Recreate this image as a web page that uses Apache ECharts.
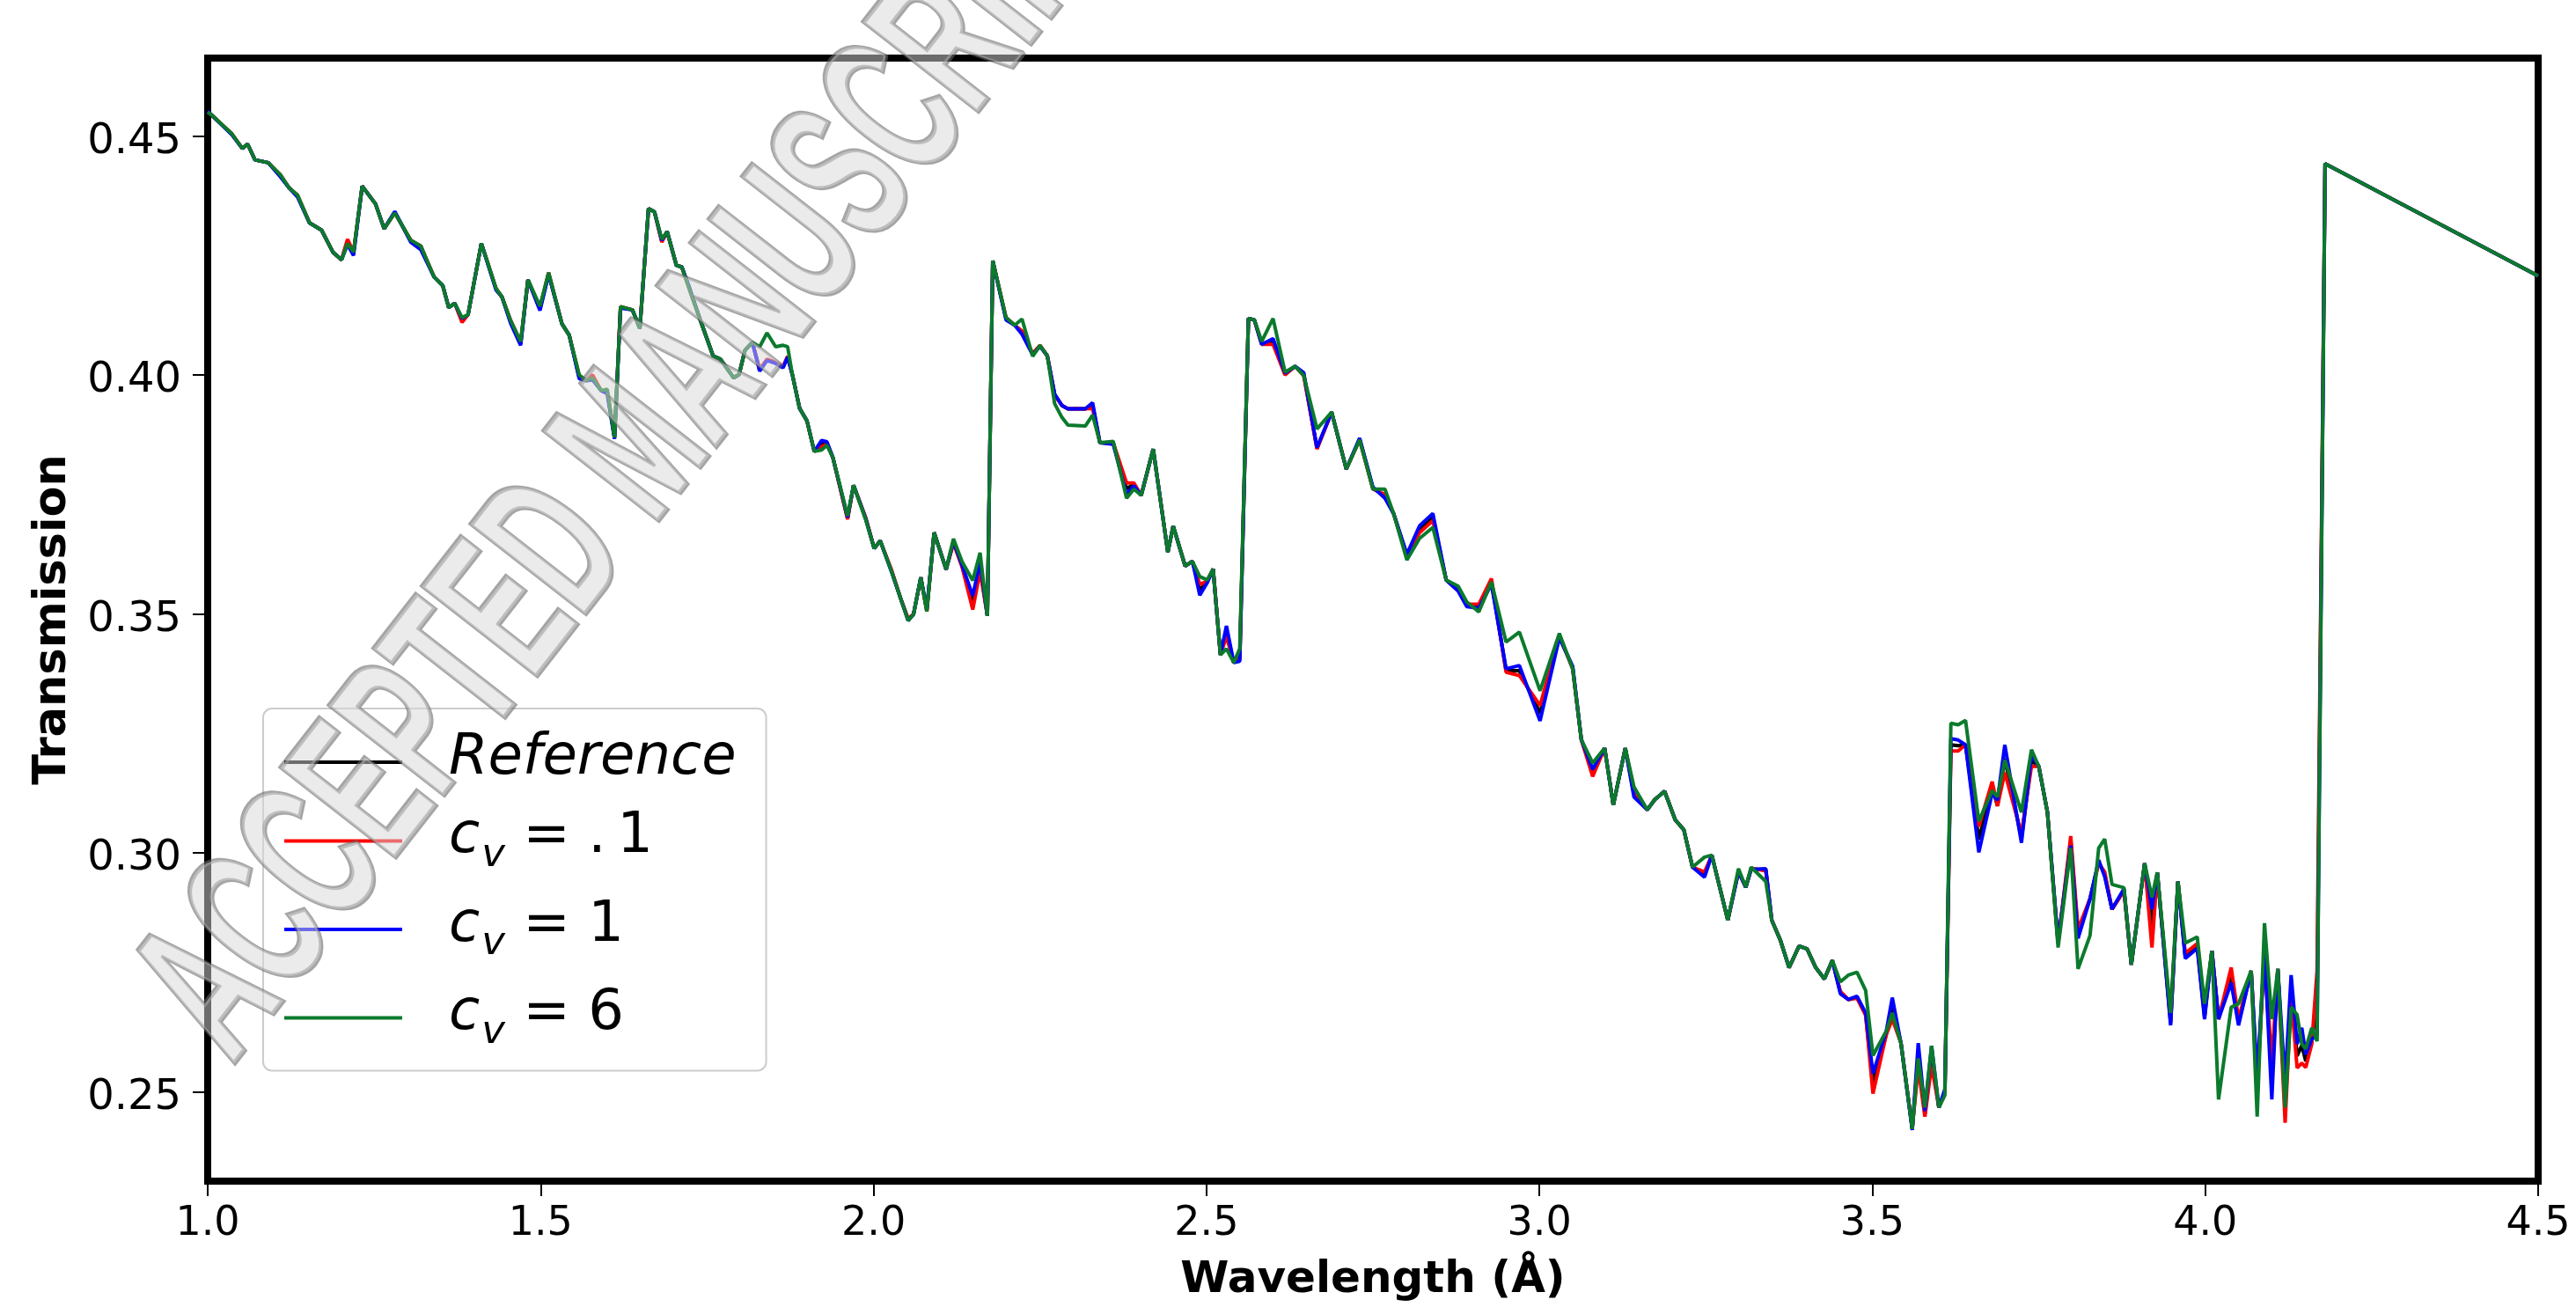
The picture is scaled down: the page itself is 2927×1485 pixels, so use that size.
<!DOCTYPE html>
<html>
<head>
<meta charset="utf-8">
<script src="https://cdn.jsdelivr.net/npm/echarts@6/dist/echarts.min.js"></script>
<style>
  html, body { margin: 0; padding: 0; background: #ffffff; }
  #chart { width: 2927px; height: 1485px; }
</style>
</head>
<body>
<div id="chart"></div>
<script>
// Wavelength grid (Å)
const wavelength = [
  1.000,1.005,1.036,1.052,1.060,1.071,1.091,1.109,1.122,1.135,1.153,1.171,1.188,1.201,1.210,1.219,
  1.232,1.252,1.265,1.281,1.305,1.320,1.340,1.353,1.362,1.371,1.382,1.391,1.411,1.433,1.442,1.455,
  1.470,1.481,1.499,1.512,1.532,1.543,1.558,1.569,1.578,1.591,1.600,1.611,1.620,1.638,1.649,1.662,
  1.671,1.682,1.690,1.704,1.712,1.723,1.741,1.759,1.770,1.790,1.798,1.807,1.818,1.829,1.840,1.853,
  1.864,1.871,1.878,1.889,1.900,1.911,1.922,1.930,1.939,1.961,1.970,1.988,2.001,2.010,2.027,2.041,
  2.052,2.060,2.071,2.080,2.091,2.109,2.120,2.133,2.149,2.160,2.171,2.179,2.199,2.212,2.223,2.239,
  2.250,2.261,2.272,2.283,2.292,2.318,2.329,2.340,2.360,2.380,2.391,2.402,2.420,2.442,2.450,2.468,
  2.479,2.490,2.501,2.510,2.521,2.530,2.541,2.550,2.563,2.572,2.583,2.600,2.618,2.633,2.646,2.666,
  2.688,2.710,2.730,2.750,2.768,2.781,2.801,2.820,2.840,2.860,2.878,2.891,2.909,2.928,2.950,2.970,
  3.001,3.030,3.050,3.063,3.080,3.098,3.111,3.129,3.142,3.162,3.173,3.188,3.204,3.217,3.230,3.248,
  3.259,3.283,3.299,3.310,3.318,3.340,3.349,3.362,3.375,3.390,3.402,3.415,3.428,3.440,3.452,3.464,
  3.477,3.490,3.501,3.521,3.530,3.543,3.560,3.569,3.579,3.589,3.600,3.609,3.618,3.629,3.640,3.660,
  3.680,3.688,3.699,3.724,3.739,3.750,3.763,3.779,3.798,3.809,3.827,3.840,3.849,3.860,3.878,3.889,
  3.909,3.920,3.928,3.948,3.959,3.970,3.988,3.999,4.010,4.020,4.039,4.050,4.069,4.078,4.089,4.100,
  4.109,4.120,4.129,4.138,4.145,4.151,4.160,4.168,4.180,4.500
];

// c_v = 6
const cv6 = [
  0.4550,0.4545,0.4505,0.4474,0.4483,0.4450,0.4444,0.4419,0.4392,0.4376,0.4318,0.4303,0.4257,0.4241,0.4275,0.4257,
  0.4395,0.4358,0.4306,0.4339,0.4282,0.4270,0.4205,0.4187,0.4141,0.4150,0.4120,0.4126,0.4275,0.4181,0.4163,0.4114,
  0.4070,0.4199,0.4144,0.4214,0.4107,0.4083,0.4000,0.3988,0.3994,0.3967,0.3970,0.3869,0.4143,0.4136,0.4097,0.4348,
  0.4341,0.4284,0.4300,0.4229,0.4226,0.4181,0.4110,0.4040,0.4033,0.3994,0.4001,0.4052,0.4068,0.4059,0.4088,0.4059,
  0.4062,0.4059,0.4001,0.3930,0.3904,0.3840,0.3843,0.3853,0.3827,0.3705,0.3769,0.3698,0.3637,0.3653,0.3589,0.3531,
  0.3486,0.3499,0.3576,0.3505,0.3670,0.3593,0.3657,0.3609,0.3570,0.3628,0.3496,0.4239,0.4120,0.4104,0.4117,0.4039,
  0.4062,0.4040,0.3940,0.3911,0.3895,0.3893,0.3916,0.3858,0.3861,0.3742,0.3761,0.3748,0.3845,0.3629,0.3684,0.3600,
  0.3610,0.3578,0.3571,0.3594,0.3414,0.3427,0.3398,0.3427,0.4118,0.4115,0.4070,0.4118,0.4006,0.4018,0.3999,0.3887,
  0.3922,0.3803,0.3864,0.3761,0.3761,0.3710,0.3613,0.3658,0.3681,0.3571,0.3558,0.3525,0.3504,0.3567,0.3441,0.3462,
  0.3339,0.3459,0.3385,0.3237,0.3188,0.3219,0.3100,0.3219,0.3138,0.3090,0.3111,0.3129,0.3069,0.3048,0.2970,0.2991,
  0.2995,0.2859,0.2967,0.2928,0.2970,0.2940,0.2859,0.2817,0.2760,0.2805,0.2799,0.2760,0.2736,0.2775,0.2730,0.2744,
  0.2750,0.2712,0.2576,0.2627,0.2665,0.2602,0.2422,0.2570,0.2467,0.2596,0.2467,0.2493,0.3271,0.3268,0.3277,0.3066,
  0.3130,0.3117,0.3194,0.3085,0.3216,0.3181,0.3085,0.2802,0.3010,0.2757,0.2827,0.3010,0.3029,0.2934,0.2927,0.2766,
  0.2978,0.2907,0.2959,0.2665,0.2940,0.2811,0.2824,0.2684,0.2795,0.2484,0.2677,0.2684,0.2753,0.2448,0.2853,0.2652,
  0.2757,0.2467,0.2677,0.2661,0.2600,0.2590,0.2634,0.2606,0.4442,0.4207
];

// c_v = .1
const cv01 = [
  0.4550,0.4545,0.4505,0.4474,0.4483,0.4450,0.4444,0.4419,0.4392,0.4376,0.4318,0.4303,0.4257,0.4241,0.4284,0.4257,
  0.4395,0.4358,0.4306,0.4339,0.4282,0.4270,0.4205,0.4187,0.4141,0.4150,0.4110,0.4126,0.4275,0.4181,0.4163,0.4114,
  0.4068,0.4199,0.4140,0.4214,0.4107,0.4083,0.3998,0.3988,0.4000,0.3967,0.3966,0.3872,0.4143,0.4136,0.4097,0.4348,
  0.4341,0.4278,0.4300,0.4229,0.4226,0.4181,0.4110,0.4040,0.4033,0.3994,0.4001,0.4052,0.4068,0.4012,0.4033,0.4026,
  0.4017,0.4039,0.4001,0.3930,0.3904,0.3840,0.3850,0.3855,0.3827,0.3698,0.3769,0.3702,0.3637,0.3653,0.3592,0.3531,
  0.3490,0.3499,0.3576,0.3505,0.3670,0.3593,0.3648,0.3598,0.3509,0.3589,0.3496,0.4239,0.4120,0.4104,0.4092,0.4045,
  0.4062,0.4040,0.3958,0.3936,0.3929,0.3929,0.3930,0.3858,0.3858,0.3774,0.3774,0.3748,0.3845,0.3629,0.3684,0.3600,
  0.3610,0.3562,0.3568,0.3594,0.3414,0.3453,0.3398,0.3410,0.4118,0.4115,0.4064,0.4064,0.4000,0.4018,0.3999,0.3845,
  0.3922,0.3803,0.3864,0.3761,0.3750,0.3710,0.3620,0.3670,0.3695,0.3571,0.3552,0.3520,0.3520,0.3574,0.3378,0.3371,
  0.3308,0.3455,0.3385,0.3237,0.3160,0.3219,0.3100,0.3219,0.3130,0.3090,0.3111,0.3129,0.3069,0.3048,0.2970,0.2960,
  0.2995,0.2859,0.2962,0.2928,0.2968,0.2962,0.2859,0.2817,0.2760,0.2805,0.2799,0.2760,0.2736,0.2775,0.2710,0.2693,
  0.2696,0.2660,0.2496,0.2620,0.2652,0.2602,0.2425,0.2550,0.2448,0.2555,0.2467,0.2500,0.3213,0.3213,0.3226,0.3055,
  0.3149,0.3098,0.3168,0.3040,0.3181,0.3181,0.3085,0.2810,0.3035,0.2840,0.2904,0.2978,0.2960,0.2882,0.2920,0.2766,
  0.2978,0.2802,0.2959,0.2650,0.2940,0.2790,0.2810,0.2665,0.2795,0.2652,0.2760,0.2652,0.2753,0.2500,0.2795,0.2560,
  0.2757,0.2435,0.2700,0.2550,0.2560,0.2551,0.2600,0.2754,0.4442,0.4207
];

// c_v = 1
const cv1 = [
  0.4552,0.4545,0.4503,0.4474,0.4483,0.4450,0.4444,0.4415,0.4392,0.4372,0.4318,0.4303,0.4257,0.4241,0.4273,0.4250,
  0.4395,0.4358,0.4306,0.4342,0.4278,0.4262,0.4205,0.4187,0.4141,0.4150,0.4118,0.4126,0.4275,0.4178,0.4163,0.4108,
  0.4062,0.4199,0.4135,0.4210,0.4107,0.4083,0.3992,0.3988,0.3990,0.3967,0.3961,0.3866,0.4140,0.4136,0.4097,0.4348,
  0.4341,0.4282,0.4300,0.4229,0.4226,0.4185,0.4110,0.4040,0.4033,0.3994,0.4001,0.4052,0.4068,0.4008,0.4030,0.4024,
  0.4015,0.4037,0.4001,0.3930,0.3904,0.3840,0.3863,0.3860,0.3827,0.3702,0.3769,0.3700,0.3637,0.3653,0.3588,0.3531,
  0.3486,0.3499,0.3576,0.3510,0.3670,0.3593,0.3652,0.3602,0.3538,0.3609,0.3496,0.4239,0.4115,0.4104,0.4085,0.4042,
  0.4060,0.4040,0.3960,0.3936,0.3929,0.3929,0.3942,0.3858,0.3855,0.3750,0.3768,0.3748,0.3845,0.3629,0.3684,0.3600,
  0.3610,0.3539,0.3565,0.3594,0.3414,0.3475,0.3398,0.3401,0.4118,0.4115,0.4064,0.4076,0.4004,0.4018,0.4005,0.3848,
  0.3922,0.3803,0.3868,0.3765,0.3742,0.3710,0.3625,0.3684,0.3710,0.3571,0.3548,0.3515,0.3512,0.3562,0.3385,0.3392,
  0.3276,0.3450,0.3390,0.3237,0.3175,0.3219,0.3100,0.3219,0.3117,0.3090,0.3111,0.3129,0.3069,0.3048,0.2970,0.2949,
  0.2995,0.2859,0.2960,0.2928,0.2965,0.2967,0.2859,0.2817,0.2760,0.2805,0.2799,0.2760,0.2736,0.2775,0.2705,0.2693,
  0.2700,0.2665,0.2538,0.2627,0.2697,0.2602,0.2420,0.2602,0.2460,0.2596,0.2467,0.2505,0.3239,0.3236,0.3226,0.3001,
  0.3125,0.3110,0.3226,0.3021,0.3205,0.3181,0.3085,0.2815,0.3015,0.2821,0.2904,0.2985,0.2950,0.2882,0.2925,0.2766,
  0.2978,0.2882,0.2959,0.2639,0.2940,0.2779,0.2800,0.2652,0.2795,0.2652,0.2728,0.2639,0.2753,0.2532,0.2795,0.2484,
  0.2757,0.2520,0.2744,0.2600,0.2634,0.2578,0.2610,0.2620,0.4442,0.4207
];

// Reference
const reference = [
  0.4551,0.4545,0.4504,0.4474,0.4483,0.4450,0.4444,0.4417,0.4392,0.4374,0.4318,0.4303,0.4257,0.4241,0.4280,0.4254,
  0.4395,0.4358,0.4306,0.4340,0.4280,0.4266,0.4205,0.4187,0.4141,0.4150,0.4114,0.4126,0.4275,0.4180,0.4163,0.4111,
  0.4065,0.4199,0.4138,0.4212,0.4107,0.4083,0.3995,0.3988,0.3995,0.3967,0.3964,0.3869,0.4142,0.4136,0.4097,0.4348,
  0.4341,0.4280,0.4300,0.4229,0.4226,0.4183,0.4110,0.4040,0.4033,0.3994,0.4001,0.4052,0.4068,0.4010,0.4032,0.4025,
  0.4016,0.4038,0.4001,0.3930,0.3904,0.3840,0.3856,0.3857,0.3827,0.3700,0.3769,0.3701,0.3637,0.3653,0.3590,0.3531,
  0.3488,0.3499,0.3576,0.3507,0.3670,0.3593,0.3650,0.3600,0.3523,0.3599,0.3496,0.4239,0.4118,0.4104,0.4089,0.4043,
  0.4061,0.4040,0.3959,0.3936,0.3929,0.3929,0.3936,0.3858,0.3857,0.3762,0.3771,0.3748,0.3845,0.3629,0.3684,0.3600,
  0.3610,0.3550,0.3566,0.3594,0.3414,0.3464,0.3398,0.3405,0.4118,0.4115,0.4064,0.4070,0.4002,0.4018,0.4002,0.3846,
  0.3922,0.3803,0.3866,0.3763,0.3746,0.3710,0.3622,0.3677,0.3702,0.3571,0.3550,0.3518,0.3516,0.3568,0.3381,0.3381,
  0.3292,0.3452,0.3388,0.3237,0.3168,0.3219,0.3100,0.3219,0.3124,0.3090,0.3111,0.3129,0.3069,0.3048,0.2970,0.2955,
  0.2995,0.2859,0.2961,0.2928,0.2966,0.2965,0.2859,0.2817,0.2760,0.2805,0.2799,0.2760,0.2736,0.2775,0.2708,0.2693,
  0.2698,0.2662,0.2517,0.2620,0.2675,0.2602,0.2422,0.2576,0.2454,0.2575,0.2467,0.2502,0.3226,0.3224,0.3226,0.3028,
  0.3137,0.3098,0.3197,0.3030,0.3193,0.3181,0.3085,0.2812,0.3025,0.2830,0.2904,0.2981,0.2955,0.2882,0.2922,0.2766,
  0.2978,0.2842,0.2959,0.2644,0.2940,0.2784,0.2805,0.2658,0.2795,0.2652,0.2744,0.2645,0.2753,0.2516,0.2795,0.2522,
  0.2757,0.2478,0.2722,0.2575,0.2597,0.2564,0.2605,0.2687,0.4442,0.4207
];

// Axis tick positions
const xTicks = [1.0, 1.5, 2.0, 2.5, 3.0, 3.5, 4.0, 4.5];
const yTicks = [0.25, 0.30, 0.35, 0.40, 0.45];

const seriesNames = ['Reference', 'c_v = .1', 'c_v = 1', 'c_v = 6'];
const seriesColors = ['#000000', '#ff0000', '#0000ff', '#0b7a2c'];
const seriesValues = [reference, cv01, cv1, cv6];

const pairs = vals => wavelength.map((w, i) => [w, vals[i]]);

const chart = echarts.init(document.getElementById('chart'), null, { renderer: 'canvas' });

const FONT = 'DejaVu Sans';

chart.setOption({
  backgroundColor: '#ffffff',
  animation: false,
  grid: {
    left: 236, right: 43, top: 66, bottom: 137,
    show: true, borderColor: '#000000', borderWidth: 8, backgroundColor: 'transparent'
  },
  xAxis: {
    type: 'value',
    min: 1.0, max: 4.5, interval: 0.5,
    name: 'Wavelength (Å)',
    nameLocation: 'middle',
    nameGap: 88,
    nameTextStyle: { fontFamily: FONT, fontWeight: 'bold', fontSize: 50, color: '#000' },
    axisLine: { show: true, onZero: false, lineStyle: { color: '#000', width: 8 } },
    axisTick: { show: true, length: 17, lineStyle: { color: '#000', width: 2 } },
    axisLabel: {
      margin: 26, fontFamily: FONT, fontSize: 46, color: '#000',
      formatter: v => v.toFixed(1)
    },
    splitLine: { show: false }
  },
  yAxis: {
    type: 'value',
    min: 0.2313, max: 0.4663,
    name: 'Transmission',
    nameLocation: 'middle',
    nameGap: 150,
    nameTextStyle: { fontFamily: FONT, fontWeight: 'bold', fontSize: 51, color: '#000' },
    axisLine: { show: true, onZero: false, lineStyle: { color: '#000', width: 8 } },
    axisTick: { show: true, length: 17, lineStyle: { color: '#000', width: 2 }, customValues: yTicks },
    axisLabel: {
      margin: 30, fontFamily: FONT, fontSize: 48, color: '#000',
      customValues: yTicks,
      formatter: v => '{t|' + v.toFixed(2) + '}',
      rich: {
        t: { fontFamily: FONT, fontSize: 48, color: '#000', padding: [14, 0, 0, 0] }
      }
    },
    splitLine: { show: false }
  },
  legend: {
    orient: 'vertical',
    left: 299, top: 805,
    padding: [25, 34, 21, 24],
    icon: 'rect',
    itemWidth: 134, itemHeight: 4, itemGap: 25.5,
    backgroundColor: 'rgba(255,255,255,0.8)',
    borderColor: '#cccccc', borderWidth: 2, borderRadius: 10,
    data: seriesNames,
    textStyle: {
      padding: [0, 0, 0, 48],
      rich: {
        it: { fontFamily: FONT, fontStyle: 'italic', fontSize: 64, lineHeight: 72, color: '#000', verticalAlign: 'top' },
        c:  { fontFamily: FONT, fontStyle: 'italic', fontSize: 64, lineHeight: 72, color: '#000', verticalAlign: 'top' },
        v:  { fontFamily: FONT, fontStyle: 'italic', fontSize: 45, lineHeight: 45, color: '#000', verticalAlign: 'top', padding: [30, 0, 0, 2] },
        eq: { fontFamily: FONT, fontSize: 64, lineHeight: 72, color: '#000', verticalAlign: 'top' }
      }
    },
    formatter: name => {
      if (name === 'Reference') return '{it|Reference}';
      const val = name.split('= ')[1].replace('.', '.\u2009');
      return '{c|c}{v|v}{eq| = ' + val + '}';
    }
  },
  graphic: [{
    type: 'text',
    x: 212, y: 1170,
    rotation: 52 * Math.PI / 180,
    scaleX: 0.56,
    z: 100,
    silent: true,
    style: {
      text: 'ACCEPTED MANUSCRIPT',
      fontFamily: 'Liberation Sans',
      fontWeight: 'bold',
      fontSize: 240,
      fill: 'rgba(215,215,215,0.5)',
      stroke: 'rgba(105,105,105,0.6)',
      lineWidth: 6,
      shadowColor: 'rgba(0,0,0,0.25)',
      shadowBlur: 6,
      shadowOffsetX: 3,
      shadowOffsetY: 3,
      align: 'left',
      verticalAlign: 'middle'
    }
  }],
  series: seriesNames.map((name, k) => ({
    name,
    type: 'line',
    data: pairs(seriesValues[k]),
    symbol: 'none',
    showSymbol: false,
    smooth: false,
    z: 2 + k,
    lineStyle: { color: seriesColors[k], width: 4 },
    itemStyle: { color: seriesColors[k] }
  }))
});
</script>
</body>
</html>
